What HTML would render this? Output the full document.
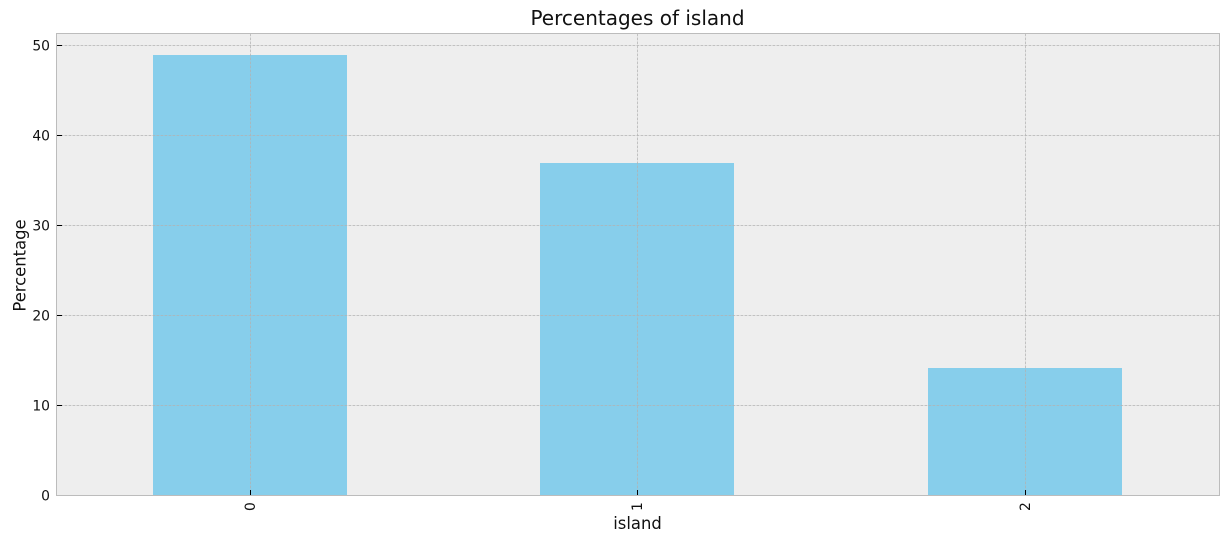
<!DOCTYPE html>
<html>
<head>
<meta charset="utf-8">
<title>Percentages of island</title>
<style>
html,body{margin:0;padding:0;background:#fff;width:1228px;height:542px;overflow:hidden}
svg{display:block}
text{font-family:"DejaVu Sans","Liberation Sans",sans-serif;fill:#111}
</style>
</head>
<body>
<svg id="chart" width="1228" height="542" viewBox="0 0 1228 542" xmlns="http://www.w3.org/2000/svg"></svg>
<script>
const categories = ['0', '1', '2'];
const percentages = [48.9, 36.9, 14.2];
const yTicks = [0, 10, 20, 30, 40, 50];
const titleText = 'Percentages of island';
const xLabelText = 'island';
const yLabelText = 'Percentage';

const svg = document.getElementById('chart');
const NS = 'http://www.w3.org/2000/svg';
const plot = {left: 56.5, right: 1219.5, top: 33.5, bottom: 495.5};
const xRange = {start: 56.8, end: 1218.8};
const xMin = -0.5, xMax = categories.length - 0.5;
const yPerUnit = 9;
function xScale(v) { return xRange.start + (v - xMin) / (xMax - xMin) * (xRange.end - xRange.start); }
function yScale(v) { return plot.bottom - v * yPerUnit; }
function mk(tag, attrs, text) {
  const el = document.createElementNS(NS, tag);
  for (const k in attrs) el.setAttribute(k, attrs[k]);
  if (text !== undefined) el.textContent = text;
  svg.appendChild(el);
  return el;
}

const bg = mk('rect', {x: plot.left, y: plot.top, width: plot.right - plot.left, height: plot.bottom - plot.top, fill: '#eeeeee'});



categories.forEach((c, i) => {
  const x0 = Math.floor(xScale(i - 0.25));
  const w = Math.round(xScale(i + 0.25) - xScale(i - 0.25));
  const top = Math.round(yScale(percentages[i]));
  const bar = mk('rect', {x: x0, y: top, width: w, height: Math.floor(yScale(0)) - top, fill: '#87ceeb'});
  
  
});

yTicks.forEach(t => {
  const y = yScale(t);
  if (t > 0) {
    const g = mk('line', {x1: plot.left, x2: plot.right, y1: y, y2: y, stroke: '#b2b2b2', 'stroke-width': 0.75, 'stroke-dasharray': '2.8 1.2'});
    
    
  }
  const tick = mk('line', {x1: plot.left, x2: plot.left + 5.5, y1: y, y2: y, stroke: '#000', 'stroke-width': 1});
  
  
  const lab = mk('text', {x: 50, y: y + 5, 'text-anchor': 'end', 'font-size': 13.9}, String(t));
  
  
});

categories.forEach((c, i) => {
  const x = Math.floor(xScale(i)) + 0.5;
  const g = mk('line', {x1: x, x2: x, y1: plot.top, y2: plot.bottom, stroke: '#b2b2b2', 'stroke-width': 0.75, 'stroke-dasharray': '2.8 1.2'});
  
  
  const tick = mk('line', {x1: x, x2: x, y1: plot.bottom, y2: plot.bottom - 5.5, stroke: '#000', 'stroke-width': 1});
  
  
  const lab = mk('text', {x: 0, y: 0, 'text-anchor': 'end', 'font-size': 13.9, transform: 'translate(' + (x + 4.3) + ',502.2) rotate(-90)'}, c);
  
  
});

const frame = mk('rect', {x: plot.left, y: plot.top, width: plot.right - plot.left, height: plot.bottom - plot.top, fill: 'none', stroke: '#bcbcbc', 'stroke-width': 1});



const title = mk('text', {x: 637.5, y: 25, 'text-anchor': 'middle', 'font-size': 20}, titleText);



const xLabel = mk('text', {x: 637.5, y: 529, 'text-anchor': 'middle', 'font-size': 16.4}, xLabelText);



const yLabel = mk('text', {x: 0, y: 0, 'text-anchor': 'middle', 'font-size': 16.4, transform: 'translate(25.7,265.5) rotate(-90)'}, yLabelText);


</script>
</body>
</html>
